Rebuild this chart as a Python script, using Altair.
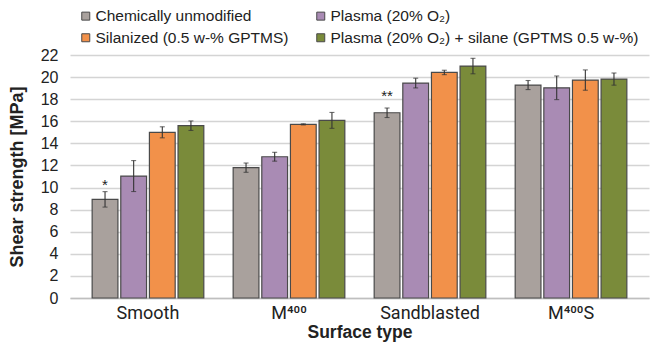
import altair as alt
import pandas as pd

surfaces = ["Smooth", "M⁴⁰⁰", "Sandblasted", "M⁴⁰⁰S"]
treatments = [
    "Chemically unmodified",
    "Plasma (20% O₂)",
    "Silanized (0.5 w-% GPTMS)",
    "Plasma (20% O₂) + silane (GPTMS 0.5 w-%)",
]
colors = ["#a9a19d", "#a98bb4", "#f2914a", "#7a8b3a"]

mean_unmod = [8.93, 11.8, 16.77, 19.28]
mean_plasma = [11.04, 12.79, 19.46, 19.03]
mean_silan = [15.0, 15.72, 20.42, 19.73]
mean_both = [15.6, 16.08, 21.0, 19.82]

err_unmod = [0.7, 0.42, 0.43, 0.41]
err_plasma = [1.4, 0.4, 0.44, 1.07]
err_silan = [0.5, 0.05, 0.2, 0.92]
err_both = [0.43, 0.72, 0.7, 0.55]

y_ticks = [0, 2, 4, 6, 8, 10, 12, 14, 16, 18, 20, 22]

annot_surface = ["Smooth", "Sandblasted"]
annot_text = ["*", "**"]
annot_y = [9.75, 17.85]

rows = []
for t, means, errs in zip(
    treatments,
    [mean_unmod, mean_plasma, mean_silan, mean_both],
    [err_unmod, err_plasma, err_silan, err_both],
):
    for s, m, e in zip(surfaces, means, errs):
        rows.append({"surface": s, "treatment": t, "mean": m, "lo": m - e, "hi": m + e})
df = pd.DataFrame(rows)

adf = pd.DataFrame({
    "surface": annot_surface,
    "treatment": [treatments[0]] * len(annot_surface),
    "label": annot_text,
    "y": annot_y,
})

FONT = "Liberation Sans"

x_enc = alt.X(
    "surface:N",
    sort=surfaces,
    title="Surface type",
    scale=alt.Scale(paddingInner=0.2, paddingOuter=0.153),
    axis=alt.Axis(
        labelAngle=0, labelFontSize=18, labelColor="#222222", labelPadding=6,
        labelFont="Roboto",
        ticks=False, domainColor="#bfbfbf", domainWidth=1.5,
        titleFontSize=17.5, titleFontWeight="bold", titleColor="#222222", titlePadding=1,
    ),
)
xoff = alt.XOffset("treatment:N", sort=treatments, scale=alt.Scale(paddingInner=0.1, paddingOuter=0.02))

y_scale = alt.Scale(domain=[0, 22], nice=False)
y_axis = alt.Axis(
    values=y_ticks, labelFontSize=16, labelColor="#222222",
    labelPadding=12, ticks=False, domain=False, grid=True, labelOverlap=False,
    gridColor="#d4d4d4", gridWidth=1.5,
    titleFontSize=18, titleFontWeight="bold", titleColor="#222222", titlePadding=14,
)
Y_TITLE = "Shear strength [MPa]"

bars = alt.Chart(df).mark_bar(stroke="#4a4a4a", strokeWidth=1.2).encode(
    x=x_enc,
    xOffset=xoff,
    y=alt.Y("mean:Q", scale=y_scale, title=Y_TITLE, axis=y_axis),
    color=alt.Color(
        "treatment:N",
        sort=treatments,
        scale=alt.Scale(domain=treatments, range=colors),
        legend=alt.Legend(
            title=None, orient="none", legendX=8, legendY=-47, direction="horizontal",
            columns=2, labelFontSize=15.5, labelColor="#222222", labelFont=FONT,
            symbolType="square", symbolSize=64, symbolStrokeColor="#4a4a4a",
            symbolStrokeWidth=1, labelOffset=2, columnPadding=24, rowPadding=5,
            labelLimit=400,
        ),
    ),
)

err = alt.Chart(df).mark_rule(color="#333333", strokeWidth=1.1).encode(
    x=x_enc, xOffset=xoff,
    y=alt.Y("lo:Q", scale=y_scale, title=Y_TITLE, axis=y_axis), y2="hi:Q",
)
cap_lo = alt.Chart(df).mark_tick(color="#333333", thickness=1.1, size=5, orient="horizontal").encode(
    x=x_enc, xOffset=xoff, y=alt.Y("lo:Q", scale=y_scale, title=Y_TITLE, axis=y_axis),
)
cap_hi = alt.Chart(df).mark_tick(color="#333333", thickness=1.1, size=5, orient="horizontal").encode(
    x=x_enc, xOffset=xoff, y=alt.Y("hi:Q", scale=y_scale, title=Y_TITLE, axis=y_axis),
)
stars = alt.Chart(adf).mark_text(fontSize=15, color="#222222", baseline="alphabetic", font=FONT).encode(
    x=x_enc, xOffset=xoff, y=alt.Y("y:Q", scale=y_scale, title=Y_TITLE, axis=y_axis), text="label:N",
)

chart = (
    alt.layer(bars, err, cap_lo, cap_hi, stars)
    .properties(
        width=579, height=243,
        autosize=alt.AutoSizeParams(type="none"),
        padding={"left": 70, "top": 55, "right": 1, "bottom": 46},
    )
    .configure(font=FONT)
    .configure_view(stroke=None)
)

chart.save("out.html", embed_options={"renderer": "svg", "actions": False})
